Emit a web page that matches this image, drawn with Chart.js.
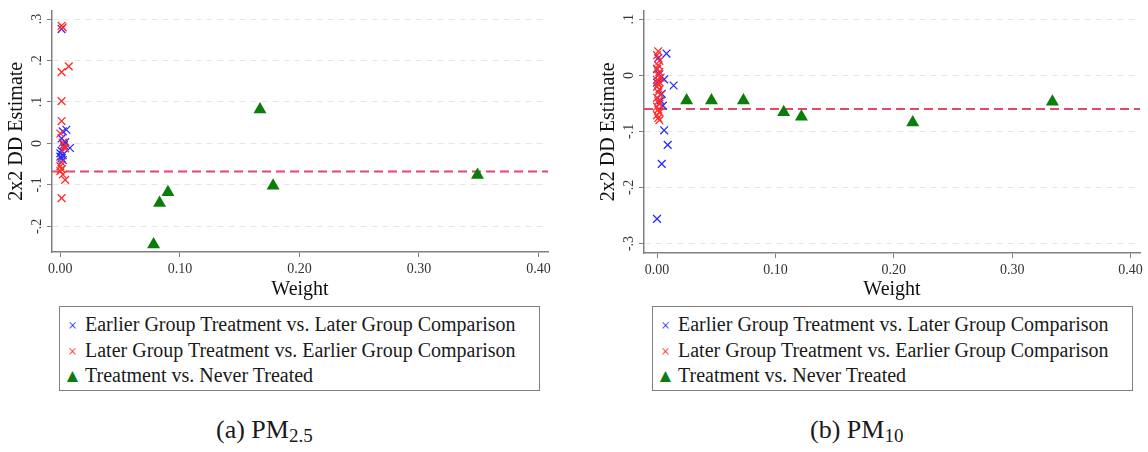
<!DOCTYPE html>
<html lang="en">
<head>
  <meta charset="UTF-8">
  <title>2x2 DD estimates vs weight</title>
  <script src="https://cdn.jsdelivr.net/npm/chart.js"></script>
  <style>
    body { margin: 0; background: #fff; font-family: "Liberation Serif", "Times New Roman", serif; color: #1a1a1a; }
    #page { position: relative; width: 1148px; height: 452px; overflow: hidden; }
    canvas { position: absolute; top: 0; }
    .legend { position: absolute; top: 306px; height: 85px; width: 481px; border: 1px solid #808080; box-sizing: border-box; padding-top: 5px; font-size: 20px; }
    .legend div { height: 25.5px; line-height: 25.5px; white-space: nowrap; }
    .mk { display: inline-block; width: 25px; text-align: center; }
    .caption { position: absolute; top: 415px; font-size: 26px; line-height: 30px; white-space: nowrap; }
    .caption sub { font-size: 19px; vertical-align: -4px; line-height: 0; }
  </style>
</head>
<body>
  <div id="page">
    <canvas id="pm25" width="560" height="300" style="left:0"></canvas>
    <canvas id="pm10" width="556" height="300" style="left:592px"></canvas>

    <div class="legend" style="left:59px">
      <div><span class="mk" style="color:#2b2bff;font-size:16px">&#215;</span>Earlier Group Treatment vs. Later Group Comparison</div>
      <div><span class="mk" style="color:#ff2b2b;font-size:16px">&#215;</span>Later Group Treatment vs. Earlier Group Comparison</div>
      <div><span class="mk" style="color:#0b7d0b;font-size:19px">&#9650;</span>Treatment vs. Never Treated</div>
    </div>
    <div class="legend" style="left:652px">
      <div><span class="mk" style="color:#2b2bff;font-size:16px">&#215;</span>Earlier Group Treatment vs. Later Group Comparison</div>
      <div><span class="mk" style="color:#ff2b2b;font-size:16px">&#215;</span>Later Group Treatment vs. Earlier Group Comparison</div>
      <div><span class="mk" style="color:#0b7d0b;font-size:19px">&#9650;</span>Treatment vs. Never Treated</div>
    </div>

    <div class="caption" style="left:216px">(a) PM<sub>2.5</sub></div>
    <div class="caption" style="left:810px">(b) PM<sub>10</sub></div>
  </div>

  <script>
    // ---- data ----
    const seriesNames = [
      'Earlier Group Treatment vs. Later Group Comparison',
      'Later Group Treatment vs. Earlier Group Comparison',
      'Treatment vs. Never Treated'
    ];

    const xTicks = [0, 0.1, 0.2, 0.3, 0.4];
    const xTickLabels = ['0.00', '0.10', '0.20', '0.30', '0.40'];

    // (a) PM2.5
    const pm25EarlyW   = [0.001, 0.002, 0.005, 0.004, 0.008, 0.001, 0.000, 0.002, 0.000, 0.001, 0.002, 0.003, 0.001];
    const pm25EarlyEst = [0.276, 0.029, 0.033, 0.003, -0.011, -0.018, -0.024, -0.028, -0.032, -0.036, -0.040, -0.004, 0.012];
    const pm25LaterW   = [0.001, 0.002, 0.007, 0.001, 0.001, 0.001, 0.000, 0.002, 0.003, 0.004, 0.000, 0.001, 0.000, 0.002, 0.004, 0.001, 0.001];
    const pm25LaterEst = [0.284, 0.280, 0.186, 0.172, 0.102, 0.054, 0.024, 0.002, -0.009, -0.012, -0.055, -0.062, -0.067, -0.075, -0.088, -0.132, -0.046];
    const pm25NeverW   = [0.078, 0.083, 0.090, 0.167, 0.178, 0.349];
    const pm25NeverEst = [-0.244, -0.144, -0.118, 0.082, -0.102, -0.076];
    const pm25Mean = -0.068;
    const pm25YTicks = [-0.2, -0.1, 0, 0.1, 0.2, 0.3];
    const pm25YLabels = ['-.2', '-.1', '0', '.1', '.2', '.3'];

    // (b) PM10
    const pm10EarlyW   = [0.000, 0.001, 0.008, 0.000, 0.002, 0.006, 0.014, 0.004, 0.005, 0.006, 0.009, 0.004, 0.000, 0.003];
    const pm10EarlyEst = [0.011, 0.031, 0.039, -0.013, 0.002, -0.007, -0.018, -0.033, -0.054, -0.098, -0.124, -0.158, -0.256, -0.045];
    const pm10LaterW   = [0.001, 0.000, 0.002, 0.001, 0.000, 0.002, 0.001, 0.003, 0.000, 0.002, 0.001, 0.000, 0.002, 0.001, 0.003, 0.000, 0.001, 0.002, 0.000, 0.001, 0.002, 0.000, 0.001, 0.002];
    const pm10LaterEst = [0.043, 0.036, 0.026, 0.018, 0.012, 0.006, 0.001, -0.004, -0.008, -0.012, -0.016, -0.020, -0.025, -0.030, -0.035, -0.040, -0.046, -0.051, -0.056, -0.061, -0.066, -0.071, -0.076, -0.080];
    const pm10NeverW   = [0.025, 0.046, 0.073, 0.107, 0.122, 0.216, 0.334];
    const pm10NeverEst = [-0.045, -0.045, -0.045, -0.066, -0.074, -0.084, -0.047];
    const pm10Mean = -0.060;
    const pm10YTicks = [-0.3, -0.2, -0.1, 0, 0.1];
    const pm10YLabels = ['-.3', '-.2', '-.1', '0', '.1'];

    // ---- drawing ----
    Chart.defaults.font.family = "'Liberation Serif', 'Times New Roman', serif";
    Chart.defaults.color = '#333';

    const toPoints = (w, est) => w.map((x, i) => ({ x: x, y: est[i] }));

    function makeChart(id, opt) {
      const xMin = opt.xMin, xMax = 0.408;
      new Chart(document.getElementById(id), {
        type: 'scatter',
        data: {
          datasets: [
            {
              label: seriesNames[1],
              data: toPoints(opt.laterW, opt.laterEst),
              pointStyle: 'crossRot', pointRadius: 5.5, borderColor: '#ff2b2b', borderWidth: 1.3,
              order: 2
            },
            {
              label: seriesNames[0],
              data: toPoints(opt.earlyW, opt.earlyEst),
              pointStyle: 'crossRot', pointRadius: 5.5, borderColor: '#2b2bff', borderWidth: 1.3,
              order: 3
            },
            {
              label: seriesNames[2],
              data: toPoints(opt.neverW, opt.neverEst),
              pointStyle: 'triangle', pointRadius: 7.5, backgroundColor: '#0b7d0b', borderColor: '#0b7d0b', borderWidth: 0,
              order: 1
            },
            {
              type: 'line',
              label: 'mean',
              data: [{ x: xMin, y: opt.mean }, { x: xMax, y: opt.mean }],
              borderColor: '#de4a6c', borderWidth: 2, borderDash: [9, 5], pointRadius: 0,
              order: 4
            }
          ]
        },
        options: {
          responsive: false,
          animation: false,
          layout: { padding: { top: 7, right: opt.padRight, left: 0, bottom: 0 } },
          plugins: { legend: { display: false }, tooltip: { enabled: false } },
          scales: {
            x: {
              type: 'linear', min: xMin, max: xMax,
              afterBuildTicks: s => { s.ticks = xTicks.map(v => ({ value: v })); },
              afterFit: s => { s.height = opt.xAxisH; },
              ticks: { callback: (v, i) => xTickLabels[i], font: { size: 14 }, padding: 4, maxRotation: 0, autoSkip: false },
              grid: { drawOnChartArea: false, color: '#808080', tickLength: 5 },
              border: { color: '#808080', width: 1.5 },
              title: { display: true, text: 'Weight', font: { size: 20, lineHeight: 1 }, color: '#111', padding: 0 }
            },
            y: {
              min: opt.yMin, max: opt.yMax,
              afterBuildTicks: s => { s.ticks = opt.yTicks.map(v => ({ value: v })); },
              afterFit: s => { s.width = 52; },
              ticks: {
                callback: (v, i) => opt.yLabels[i], font: { size: 14 },
                minRotation: 90, maxRotation: 90, crossAlign: 'center', padding: 2, autoSkip: false
              },
              grid: { color: '#e2e7ec', tickColor: '#808080', tickLength: 5, lineWidth: 1 },
              border: { color: '#808080', width: 1.5, dash: [6, 5] },
              title: { display: true, text: '2x2 DD Estimate', font: { size: 20, lineHeight: 1 }, color: '#111', padding: { top: 7, bottom: 0 } }
            }
          }
        }
      });
    }

    makeChart('pm25', {
      earlyW: pm25EarlyW, earlyEst: pm25EarlyEst,
      laterW: pm25LaterW, laterEst: pm25LaterEst,
      neverW: pm25NeverW, neverEst: pm25NeverEst,
      mean: pm25Mean, yTicks: pm25YTicks, yLabels: pm25YLabels,
      xMin: -0.007, yMin: -0.262, yMax: 0.321, padRight: 12, xAxisH: 48
    });

    makeChart('pm10', {
      earlyW: pm10EarlyW, earlyEst: pm10EarlyEst,
      laterW: pm10LaterW, laterEst: pm10LaterEst,
      neverW: pm10NeverW, neverEst: pm10NeverEst,
      mean: pm10Mean, yTicks: pm10YTicks, yLabels: pm10YLabels,
      xMin: -0.011, yMin: -0.317, yMax: 0.116, padRight: 8, xAxisH: 47
    });
  </script>
</body>
</html>
